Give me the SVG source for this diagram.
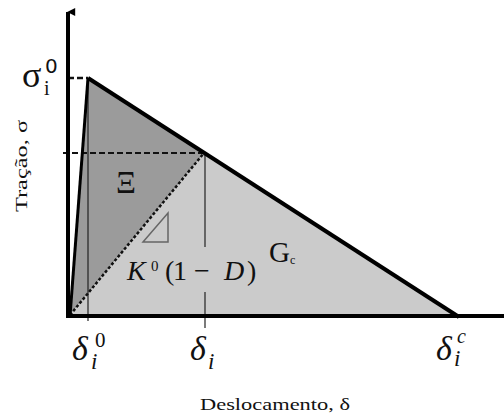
<svg xmlns="http://www.w3.org/2000/svg" width="504" height="414" viewBox="0 0 504 414">
<style>
.serif{font-family:"Liberation Serif","DejaVu Serif",serif;fill:#111}
.it{font-style:italic}
.thick{stroke:#000;fill:none;stroke-linecap:butt}
.thin{stroke:#222;stroke-width:1.2;fill:none}
</style>
<defs>
<marker id="arr" viewBox="0 0 10 10" refX="5" refY="1" markerWidth="8" markerHeight="12" orient="auto" markerUnits="userSpaceOnUse">
<path d="M0,10 L5,0 L10,10 Z" fill="#000"/>
</marker>
</defs>
<rect width="504" height="414" fill="#fff"/>
<g id="regions">
<polygon id="light" points="69,316 204,153 458,316" fill="#cbcbcb"/>
<polygon id="dark" points="69,316 88,78 204,153" fill="#9b9b9b"/>
</g>
<g id="connectors">
<line class="thin" x1="88" y1="80" x2="88" y2="321"/>
<line class="thin" x1="205" y1="153" x2="205" y2="247"/>
<line class="thin" x1="205" y1="292" x2="205" y2="328"/>
<line x1="63" y1="153" x2="204" y2="153" stroke="#111" stroke-width="2" stroke-dasharray="6,3"/>
<line x1="68" y1="78" x2="88" y2="78" stroke="#111" stroke-width="2.5" stroke-dasharray="6,3"/>
<line x1="70" y1="315" x2="204" y2="153" stroke="#111" stroke-width="2.5" stroke-dasharray="3,2"/>
<line class="thick" x1="70" y1="316" x2="88" y2="78" stroke-width="3"/>
<line class="thick" x1="88" y1="78" x2="459" y2="317" stroke-width="4"/>
<line class="thick" x1="66" y1="316" x2="504" y2="316" stroke-width="4"/>
<line class="thick" x1="68" y1="318" x2="68" y2="12" stroke-width="4" marker-end="url(#arr)"/>
</g>
<g id="slope">
<polygon points="143,242 168,213 168,242" fill="#cbcbcb" stroke="#666" stroke-width="1.5"/>
</g>
<g id="labels">
<text class="serif" x="126" y="193" font-size="31" text-anchor="middle">Ξ</text>
<g id="stiffness" class="serif">
<text class="it" x="127" y="280" font-size="28">K</text>
<text x="151" y="271" font-size="15">0</text>
<text x="165" y="280" font-size="28">(</text>
<text x="173" y="280" font-size="28">1</text>
<text x="194" y="280" font-size="28">−</text>
<text class="it" x="224" y="280" font-size="28">D</text>
<text x="247" y="280" font-size="28">)</text>
</g>
<g id="gc" class="serif">
<text x="269" y="262" font-size="29">G</text>
<text x="290" y="264" font-size="12">c</text>
</g>
<g id="sigma" class="serif">
<text x="22" y="87" font-size="36">σ</text>
<text x="45" y="73" font-size="20" font-family="DejaVu Sans, sans-serif">0</text>
<text x="44" y="95" font-size="20">i</text>
</g>
<g id="d0" class="serif">
<text class="it" x="72" y="360" font-size="34">δ</text>
<text x="95" y="347" font-size="21">0</text>
<text class="it" x="91" y="369" font-size="23">i</text>
</g>
<g id="di" class="serif">
<text class="it" x="190" y="360" font-size="34">δ</text>
<text class="it" x="208" y="369" font-size="23">i</text>
</g>
<g id="dc" class="serif">
<text class="it" x="436" y="360" font-size="34">δ</text>
<text class="it" x="457" y="343" font-size="20">c</text>
<text class="it" x="454" y="366" font-size="23">i</text>
</g>
<text class="serif" x="275" y="410" font-size="17" text-anchor="middle" textLength="150" lengthAdjust="spacingAndGlyphs" fill="#333">Deslocamento, δ</text>
<text class="serif" transform="translate(27,166) rotate(-90)" font-size="16" text-anchor="middle" textLength="92" lengthAdjust="spacingAndGlyphs" fill="#333">Tração, σ</text>
</g>
</svg>
